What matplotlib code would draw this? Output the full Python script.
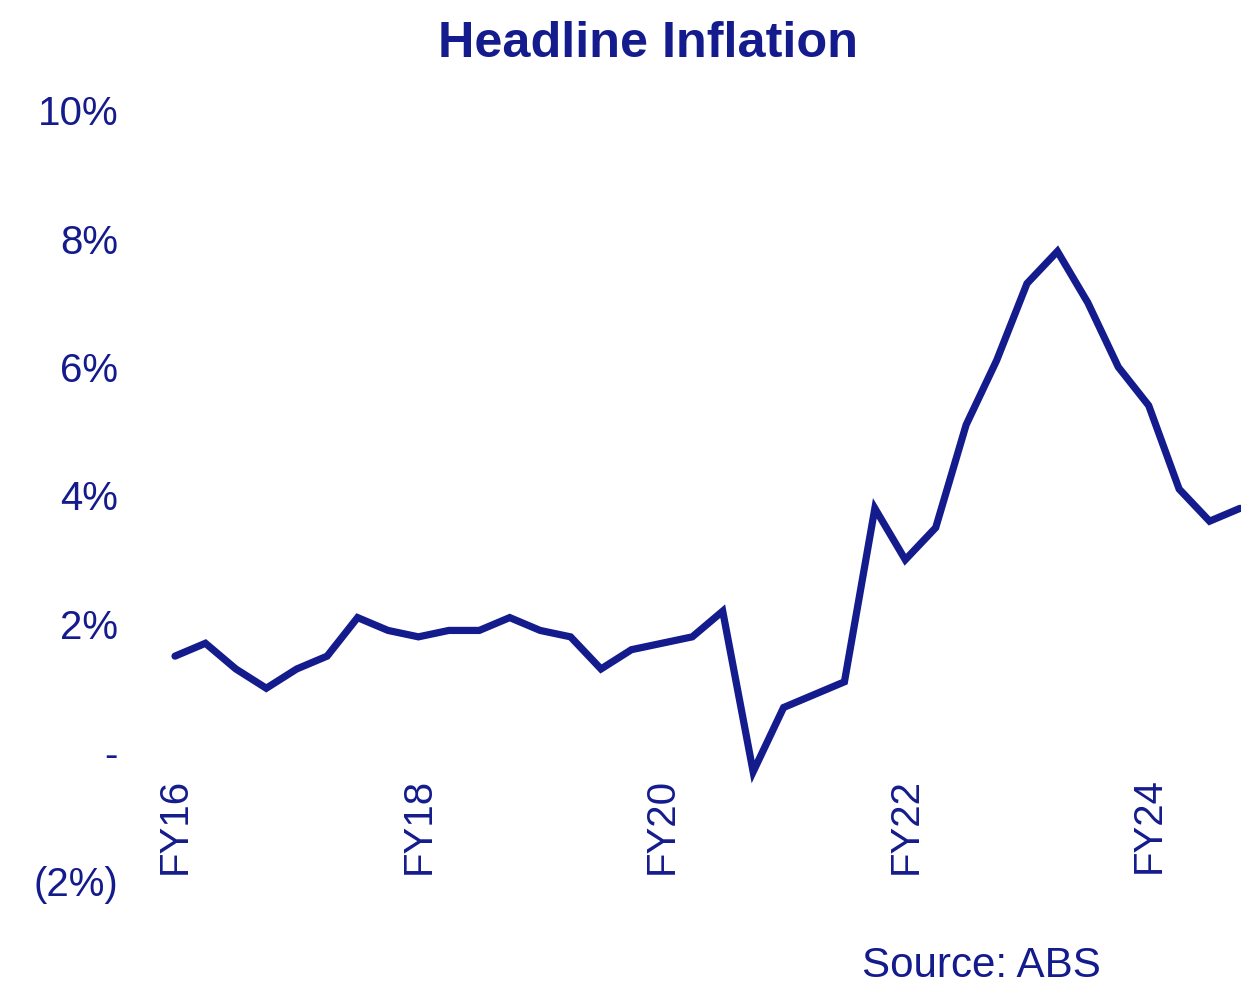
import matplotlib
matplotlib.use("Agg")
import matplotlib.pyplot as plt

# Quarterly headline CPI, year-on-year % (Sep-15 to Jun-24)
quarters = list(range(36))
inflation = [1.5, 1.7, 1.3, 1.0, 1.3, 1.5, 2.1, 1.9, 1.8, 1.9, 1.9, 2.1,
             1.9, 1.8, 1.3, 1.6, 1.7, 1.8, 2.2, -0.3, 0.7, 0.9, 1.1, 3.8,
             3.0, 3.5, 5.1, 6.1, 7.3, 7.8, 7.0, 6.0, 5.4, 4.1, 3.6, 3.8]
fy_tick_pos = [0, 8, 16, 24, 32]
fy_tick_labels = ["FY16", "FY18", "FY20", "FY22", "FY24"]
y_ticks = [-2, 0, 2, 4, 6, 8, 10]
y_tick_labels = ["(2%)", "-", "2%", "4%", "6%", "8%", "10%"]

navy = "#141b8c"
plt.rcParams["font.family"] = ["Liberation Sans", "DejaVu Sans"]

W, H = 1241, 989
fig = plt.figure(figsize=(W / 100, H / 100), dpi=100)
left, right = 175 / W, 1240 / W
bottom, top = (H - 881) / H, (H - 110) / H
ax = fig.add_axes([left, bottom, right - left, top - bottom])

# category axis sits on the zero line
ax.spines["bottom"].set_position(("data", 0))
for s in ax.spines.values():
    s.set_visible(False)

ax.plot(quarters, inflation, color=navy, linewidth=5.2, solid_joinstyle="miter",
        solid_capstyle="round", clip_on=False)

ax.set_xlim(0, 35)
ax.set_ylim(-2, 10)
ax.set_yticks(y_ticks)
ax.set_yticklabels(y_tick_labels)
ax.set_xticks(fy_tick_pos)
ax.set_xticklabels(fy_tick_labels)

ax.tick_params(axis="y", length=0, pad=41, labelsize=29, labelcolor=navy)
ax.tick_params(axis="x", length=0, pad=18, labelsize=29, labelcolor=navy,
               labelrotation=90)

fig.text(648 / W, 1 - 57 / H, "Headline Inflation", ha="center", va="baseline",
         fontsize=36.3, fontweight="bold", color=navy)
fig.text(862 / W, 1 - 977 / H, "Source: ABS", ha="left", va="baseline",
         fontsize=30.3, color=navy)

fig.savefig("out.png", dpi=100)
